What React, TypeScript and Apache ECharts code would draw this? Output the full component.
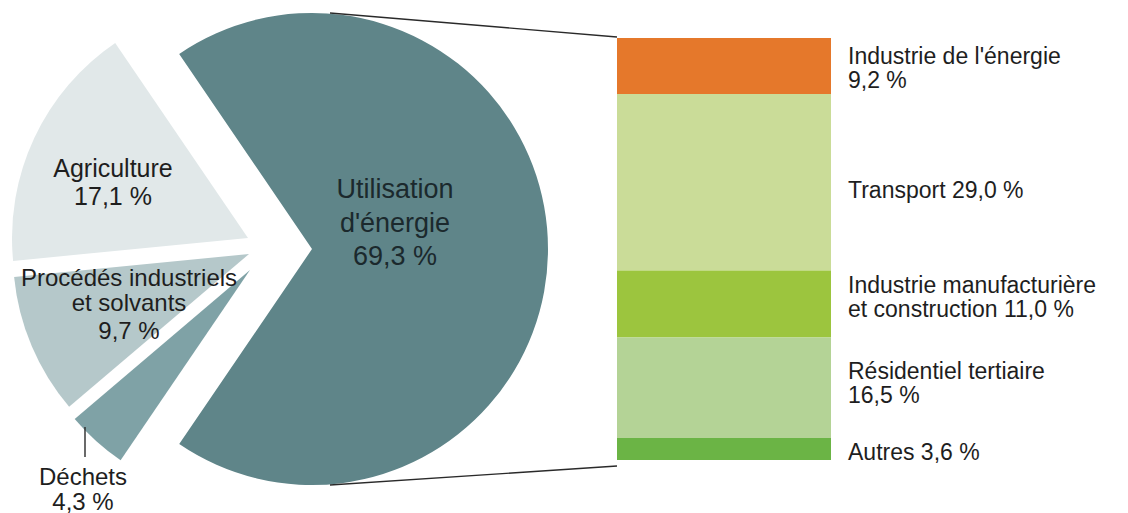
import React, { useEffect, useRef } from "react";
import * as echarts from "echarts";

// ---- data ----
const pieNames = ["Utilisation\nd'énergie", "Déchets", "Procédés industriels\net solvants", "Agriculture"];
const pieValues = [69.3, 4.3, 9.7, 17.1];
const pieColors = ["#5f8589", "#7fa2a6", "#b5c8ca", "#e1e8e9"];

const barNames = ["Industrie de l'énergie", "Transport", "Industrie manufacturière\net construction", "Résidentiel tertiaire", "Autres"];
const barValues = [9.2, 29.0, 11.0, 16.5, 3.6];
const barSeps = ["\n", " ", " ", "\n", " "];
const barColors = ["#e5782b", "#cadc98", "#9cc53e", "#b4d396", "#6bb445"];

// ---- layout ----
const FONT = "'Liberation Sans', Arial, Helvetica, sans-serif";
const pieGeom = [
  { c: [312, 249], r: 236 },
  { c: [250, 270], r: 230 },
  { c: [249, 254], r: 236 },
  { c: [248, 238], r: 236 },
];
// name block (center y, line height) and value line (center y)
const pieLabelPos = [
  { x: 395, nameY: 206, lh: 34, valY: 256, size: 27, color: "#1b292d" },
  { x: 83, nameY: 476, lh: 25, valY: 501, size: 24, color: "#1e1e1e" },
  { x: 129, nameY: 290, lh: 25, valY: 330, size: 24, color: "#1e1e1e" },
  { x: 113, nameY: 168, lh: 28, valY: 196, size: 25, color: "#1e1e1e" },
];
const barLabelY = [68, 190, 297, 383, 452];
const BAR_LEFT = 617, BAR_TOP = 38, BAR_W = 214, BAR_H = 422;

const fmt = (v: number) => v.toFixed(1).replace(".", ",") + " %";

export default function App() {
  const ref = useRef<HTMLDivElement>(null);
  useEffect(() => {
    if (!ref.current) return;
    const chart = echarts.init(ref.current, undefined, { renderer: "svg" });
    const total = barValues.reduce((a, b) => a + b, 0);

    const pieSeries = pieGeom.map((g, k) => ({
      type: "pie",
      center: g.c,
      radius: [0, g.r],
      startAngle: 124.25,
      clockwise: true,
      silent: true,
      avoidLabelOverlap: false,
      label: { show: false },
      labelLine: { show: false },
      emphasis: { disabled: true },
      data: pieValues.map((v, i) => ({
        value: v,
        name: pieNames[i],
        itemStyle: { color: i === k ? pieColors[i] : "rgba(0,0,0,0)" },
      })),
    }));

    const barSeries = barValues.map((v, i) => ({
      type: "bar",
      name: barNames[i],
      stack: "total",
      barWidth: "100%",
      silent: true,
      itemStyle: { color: barColors[i] },
      data: [v],
    }));

    const txt = (x: number, y: number, text: string, size: number, lh: number, color: string, align: string) => ({
      type: "text",
      z: 100,
      x,
      y,
      style: {
        text,
        fill: color,
        fontSize: size,
        fontFamily: FONT,
        lineHeight: lh,
        textAlign: align,
        textVerticalAlign: "middle",
        align,
        verticalAlign: "middle",
      },
    });

    const texts: any[] = [];
    pieNames.forEach((n, i) => {
      const p = pieLabelPos[i];
      texts.push(txt(p.x, p.nameY, n, p.size, p.lh, p.color, "center"));
      texts.push(txt(p.x, p.valY, fmt(pieValues[i]), p.size, p.lh, p.color, "center"));
    });
    barNames.forEach((n, i) => {
      texts.push(txt(848, barLabelY[i], n + barSeps[i] + fmt(barValues[i]), 23, 24, "#1e1e1e", "left"));
    });

    const lineStyle = { stroke: "#2a2a2a", lineWidth: 1.4 };
    const graphics = [
      { type: "line", z: 100, shape: { x1: 330, y1: 13, x2: BAR_LEFT, y2: 37 }, style: lineStyle },
      { type: "line", z: 100, shape: { x1: 330, y1: 485, x2: BAR_LEFT, y2: 466 }, style: lineStyle },
      { type: "line", z: 100, shape: { x1: 85, y1: 427, x2: 85, y2: 457 }, style: lineStyle },
      ...texts,
    ];

    chart.setOption({
      animation: false,
      backgroundColor: "#ffffff",
      grid: { left: BAR_LEFT, top: BAR_TOP, width: BAR_W, height: BAR_H },
      xAxis: { type: "category", data: ["Utilisation d'énergie"], show: false },
      yAxis: { type: "value", min: 0, max: total, inverse: true, show: false },
      series: [...pieSeries, ...barSeries],
      graphic: { elements: graphics },
    });
    return () => chart.dispose();
  }, []);
  return (
    <div
      ref={ref}
      style={{ position: "absolute", left: 0, top: 0, width: 1128, height: 513 }}
    />
  );
}
